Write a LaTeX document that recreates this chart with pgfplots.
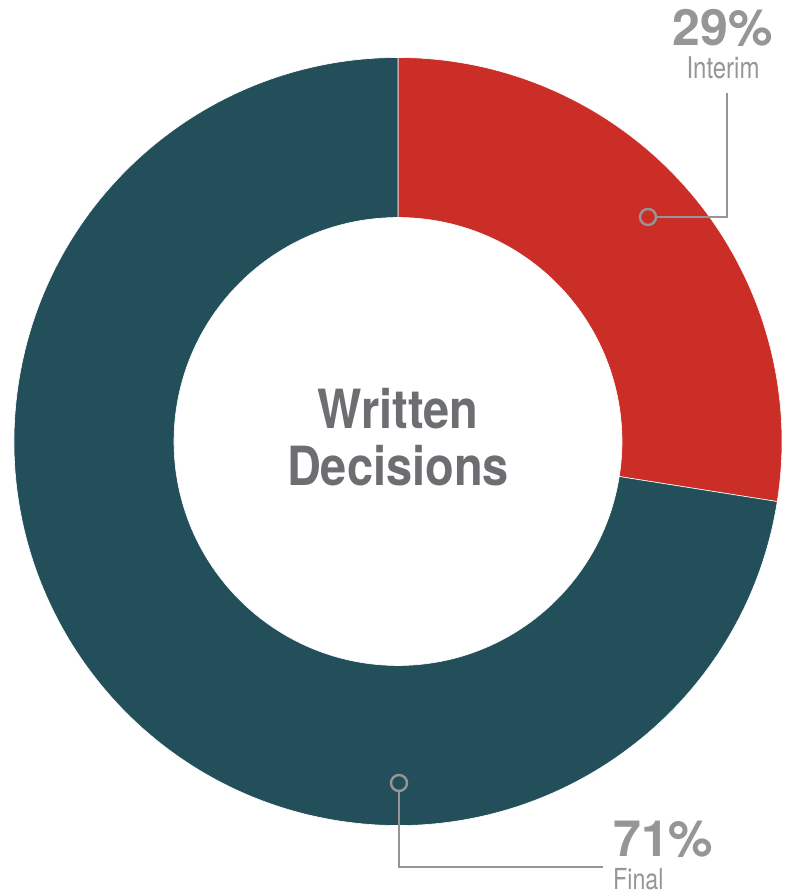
\documentclass[border=0pt]{standalone}
\usepackage{pgfplots}
\pgfplotsset{compat=1.18}
\usepackage{pgfplotstable}
\usetikzlibrary{calc}
\usepackage{fontspec}
\setmainfont{TeX Gyre Heros}
\newfontfamily\condfont{TeX Gyre Heros}[FakeStretch=0.80]
\newfontfamily\bcondfont{TeX Gyre Heros}[FakeStretch=0.87]

\definecolor{interimred}{RGB}{203,46,39}
\definecolor{finalteal}{RGB}{35,79,90}
\definecolor{labelgray}{RGB}{150,150,153}
\definecolor{titlegray}{RGB}{109,110,113}
\definecolor{leadergray}{RGB}{150,150,152}

% drawn share of each slice (degrees come from these)
\pgfplotstableread{
label   share
Interim 27.5
Final   72.5
}\sharetable

\begin{document}
\begin{tikzpicture}
\path[use as bounding box] (0,0) rectangle (788pt,894pt);
\pgfplotstablegetelem{0}{share}\of\sharetable
\pgfmathsetmacro{\aStart}{90}
\pgfmathsetmacro{\aMid}{90-3.6*\pgfplotsretval}
\pgfmathsetmacro{\aEnd}{90-360}
\begin{axis}[
    x=1pt, y=1pt,
    xmin=0, xmax=788, ymin=0, ymax=894,
    hide axis,
    clip=false,
  ]
  % donut slices, centre (398,452.5), radii 384 / 224
  \fill[interimred, draw=white, line width=0.6pt]
    (axis cs:398,452.5) ++(\aStart:384pt) arc[start angle=\aStart, end angle=\aMid, radius=384pt]
    -- ($(axis cs:398,452.5)+(\aMid:224pt)$) arc[start angle=\aMid, end angle=\aStart, radius=224pt] -- cycle;
  \fill[finalteal, draw=white, line width=0.6pt]
    (axis cs:398,452.5) ++(\aMid:384pt) arc[start angle=\aMid, end angle=\aEnd, radius=384pt]
    -- ($(axis cs:398,452.5)+(\aEnd:224pt)$) arc[start angle=\aEnd, end angle=\aMid, radius=224pt] -- cycle;

  % leader lines
  \addplot[leadergray, line width=2pt, mark=none] coordinates {(656,677) (727,677) (727,801)};
  \addplot[leadergray, only marks, mark=o, mark size=8pt, mark options={line width=2.4pt}] coordinates {(648,677)};
  \addplot[leadergray, line width=2pt, mark=none] coordinates {(399,103) (399,27) (603,27)};
  \addplot[leadergray, only marks, mark=o, mark size=8pt, mark options={line width=2.4pt}] coordinates {(399,111)};

  % labels
  \node[anchor=base, text=labelgray, inner sep=0pt, font=\fontsize{50}{50}\selectfont\bfseries] at (axis cs:723,848) {29\%};
  \node[anchor=base, text=labelgray, inner sep=0pt, font=\condfont\fontsize{30}{30}\selectfont] at (axis cs:723,815) {Interim};
  \node[anchor=base west, text=labelgray, inner sep=0pt, font=\fontsize{50}{50}\selectfont\bfseries] at (axis cs:613,37) {71\%};
  \node[anchor=base west, text=labelgray, inner sep=0pt, font=\condfont\fontsize{29}{29}\selectfont] at (axis cs:613,5) {Final};

  \node[anchor=base, text=titlegray, inner sep=0pt, font=\bcondfont\fontsize{54}{54}\selectfont\bfseries] at (axis cs:398,465) {Written};
  \node[anchor=base, text=titlegray, inner sep=0pt, font=\bcondfont\fontsize{54}{54}\selectfont\bfseries] at (axis cs:398,408) {Decisions};
\end{axis}
\end{tikzpicture}
\end{document}
